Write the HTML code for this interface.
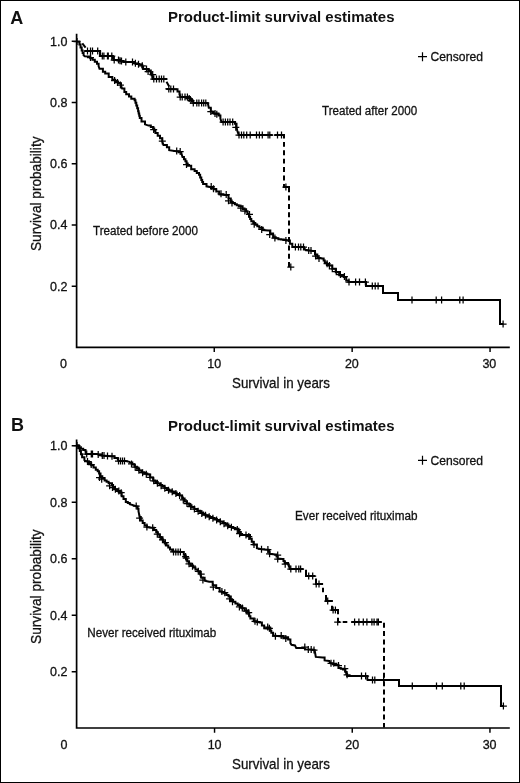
<!DOCTYPE html>
<html><head><meta charset="utf-8"><style>
html,body{margin:0;padding:0;background:#fff;width:520px;height:783px;overflow:hidden}
svg{display:block;filter:grayscale(1)}
text{fill:#111}
text[font-weight="normal"],text:not([font-weight]){stroke:#111;stroke-width:0.3px}
</style></head><body>
<svg width="520" height="783" viewBox="0 0 520 783" font-family='"Liberation Sans", sans-serif' fill="#000"><rect x="0.5" y="0.5" width="519" height="782" fill="none" stroke="#000" stroke-width="1"/>
<path d="M76.6 33.8V348.15000000000003M75.75 347.3H509.8" stroke="#000" stroke-width="1.7" fill="none"/>
<path d="M71.7 41.27H76.6M71.7 102.53H76.6M71.7 163.79H76.6M71.7 225.05H76.6M71.7 286.31H76.6M214.25 347.3V352.1M352.15 347.3V352.1M490.05 347.3V352.1" stroke="#000" stroke-width="1.45" fill="none"/>
<text x="67.5" y="45.66999999999998" font-size="12.5" font-weight="normal" text-anchor="end">1.0</text>
<text x="67.5" y="106.92999999999998" font-size="12.5" font-weight="normal" text-anchor="end">0.8</text>
<text x="67.5" y="168.19" font-size="12.5" font-weight="normal" text-anchor="end">0.6</text>
<text x="67.5" y="229.45" font-size="12.5" font-weight="normal" text-anchor="end">0.4</text>
<text x="67.5" y="290.71" font-size="12.5" font-weight="normal" text-anchor="end">0.2</text>
<text x="63.5" y="367.8" font-size="12.5" font-weight="normal" text-anchor="middle">0</text>
<text x="214.3" y="367.8" font-size="12.5" font-weight="normal" text-anchor="middle">10</text>
<text x="351.85" y="367.8" font-size="12.5" font-weight="normal" text-anchor="middle">20</text>
<text x="489.35" y="367.8" font-size="12.5" font-weight="normal" text-anchor="middle">30</text>
<text x="232.0" y="387.8" font-size="15" font-weight="normal" text-anchor="start" textLength="98" lengthAdjust="spacingAndGlyphs">Survival in years</text>
<text transform="translate(41.3 193.75) rotate(-90)" x="0" y="0" font-size="15" text-anchor="middle" textLength="114.5" lengthAdjust="spacingAndGlyphs">Survival probability</text>
<text x="168" y="22.3" font-size="14.6" font-weight="bold" text-anchor="start" textLength="226.5" lengthAdjust="spacingAndGlyphs">Product-limit survival estimates</text>
<text x="10.3" y="23.5" font-size="18" font-weight="bold" text-anchor="start">A</text>
<path d="M418 56.7H427M422.5 52.2V61.2" stroke="#000" stroke-width="1.2"/>
<text x="430.5" y="61.2" font-size="13" font-weight="normal" text-anchor="start" textLength="52.5" lengthAdjust="spacingAndGlyphs">Censored</text>
<path d="M76.6 439.6V728.85M75.75 728.0H509.8" stroke="#000" stroke-width="1.7" fill="none"/>
<path d="M71.7 445.66H76.6M71.7 502.16H76.6M71.7 558.66H76.6M71.7 615.16H76.6M71.7 671.66H76.6M214.55 728.0V732.8M352.25 728.0V732.8M489.95 728.0V732.8" stroke="#000" stroke-width="1.45" fill="none"/>
<text x="67.5" y="450.06" font-size="12.5" font-weight="normal" text-anchor="end">1.0</text>
<text x="67.5" y="506.55999999999995" font-size="12.5" font-weight="normal" text-anchor="end">0.8</text>
<text x="67.5" y="563.06" font-size="12.5" font-weight="normal" text-anchor="end">0.6</text>
<text x="67.5" y="619.56" font-size="12.5" font-weight="normal" text-anchor="end">0.4</text>
<text x="67.5" y="676.06" font-size="12.5" font-weight="normal" text-anchor="end">0.2</text>
<text x="64.1" y="749.0" font-size="12.5" font-weight="normal" text-anchor="middle">0</text>
<text x="214.6" y="749.0" font-size="12.5" font-weight="normal" text-anchor="middle">10</text>
<text x="352.3" y="749.0" font-size="12.5" font-weight="normal" text-anchor="middle">20</text>
<text x="489.6" y="749.0" font-size="12.5" font-weight="normal" text-anchor="middle">30</text>
<text x="232.0" y="769.0" font-size="15" font-weight="normal" text-anchor="start" textLength="98" lengthAdjust="spacingAndGlyphs">Survival in years</text>
<text transform="translate(41.3 586.65) rotate(-90)" x="0" y="0" font-size="15" text-anchor="middle" textLength="114.5" lengthAdjust="spacingAndGlyphs">Survival probability</text>
<text x="168" y="431.2" font-size="14.6" font-weight="bold" text-anchor="start" textLength="226.5" lengthAdjust="spacingAndGlyphs">Product-limit survival estimates</text>
<text x="10.9" y="430.8" font-size="18" font-weight="bold" text-anchor="start">B</text>
<path d="M418 460.3H427M422.5 455.8V464.8" stroke="#000" stroke-width="1.2"/>
<text x="430.5" y="464.8" font-size="13" font-weight="normal" text-anchor="start" textLength="52.5" lengthAdjust="spacingAndGlyphs">Censored</text>
<text x="322.1" y="115" font-size="12.5" font-weight="normal" text-anchor="start" textLength="95.0" lengthAdjust="spacingAndGlyphs">Treated after 2000</text>
<text x="93.0" y="235" font-size="12.5" font-weight="normal" text-anchor="start" textLength="105.0" lengthAdjust="spacingAndGlyphs">Treated before 2000</text>
<text x="295.0" y="519.8" font-size="12.5" font-weight="normal" text-anchor="start" textLength="122.5" lengthAdjust="spacingAndGlyphs">Ever received rituximab</text>
<text x="87.3" y="637.1" font-size="12.5" font-weight="normal" text-anchor="start" textLength="129" lengthAdjust="spacingAndGlyphs">Never received rituximab</text>
<path d="M77 41.50 L79.40 41.50 L79.40 44.50 L80.55 44.50 L80.55 47.55 L81.70 47.55 L81.70 50.60 L82.65 50.60 L82.65 52.90 L83.60 52.90 L83.60 55.20 L84.80 56.20 L88.60 56.40 L90.20 56.40 L90.20 58.30 L92.50 58.30 L92.50 59.80 L94.80 59.80 L94.80 61.80 L97 61.80 L97 63.70 L98.60 63.70 L98.60 66 L99.50 68.80 L102.90 68.80 L102.90 71.70 L105.20 71.70 L105.20 73.50 L108.70 73.50 L108.70 76.90 L112.30 76.90 L112.30 79.80 L115.20 79.80 L115.20 81.50 L118.10 81.50 L118.10 83.30 L121 83.30 L121 85.60 L122.10 88.50 L124.40 88.50 L124.40 91.90 L126.20 91.90 L126.20 94.20 L129 94.20 L129 96.50 L131.30 96.50 L131.30 98.80 L134.60 98.80 L134.60 100.20 L135.45 100.20 L135.45 102.80 L136.30 102.80 L136.30 105.40 L137.20 105.40 L137.20 108.30 L138.10 108.30 L138.10 111.20 L138.67 111.20 L138.67 113.50 L139.23 113.50 L139.23 115.80 L139.80 115.80 L139.80 118.10 L141.50 118.10 L141.50 121.50 L145 121.50 L145 124.40 L148.50 125.60 L150.80 125.60 L150.80 127.05 L153.10 127.05 L153.10 128.50 L154.25 128.50 L154.25 130.80 L155.40 130.80 L155.40 133.10 L157.70 133.10 L157.70 135.70 L160 135.70 L160 138.30 L162.30 138.30 L162.30 141.50 L163.50 145 L166.90 145 L166.90 147.30 L169.20 147.30 L169.20 150.20 L176.20 151.30 L178.75 151.30 L178.75 152.20 L181.30 152.20 L181.30 153.10 L182.50 157.10 L183.95 157.10 L183.95 159.15 L185.40 159.15 L185.40 161.20 L186.55 161.20 L186.55 163.50 L187.70 163.50 L187.70 165.80 L191.20 165.80 L191.20 169.20 L194.60 169.20 L194.60 171 L196.80 171 L196.80 172.90 L199 172.90 L199 174.80 L200.15 174.80 L200.15 177.40 L201.30 177.40 L201.30 180 L202.20 180 L202.20 182 L203.10 182 L203.10 184 L206.50 184 L206.50 186.30 L210 186.90 L213.50 186.90 L213.50 189.20 L216.30 189.20 L216.30 191.50 L219.20 191.50 L219.20 194.40 L225 195 L228.50 195 L228.50 198.50 L230.80 198.50 L230.80 201.90 L232.80 201.90 L232.80 203.05 L234.80 203.05 L234.80 204.20 L236.80 204.20 L236.80 205.25 L238.80 205.25 L238.80 206.30 L242.60 206.30 L242.60 209.20 L246.10 209.20 L246.10 211.50 L247.55 211.50 L247.55 214.10 L249 214.10 L249 216.70 L250.15 216.70 L250.15 219 L251.30 219 L251.30 221.30 L253.30 221.30 L253.30 223.05 L255.30 223.05 L255.30 224.80 L257.30 224.80 L257.30 226.25 L259.30 226.25 L259.30 227.70 L262.80 227.70 L262.80 230 L268 230.60 L270.30 230.60 L270.30 233.50 L273.10 233.50 L273.10 237.20 L275.75 237.20 L275.75 238.20 L278.40 238.20 L278.40 239.20 L281.10 239.20 L281.10 239.60 L283.80 239.60 L283.80 240 L286.50 240 L286.50 240.40 L289.90 240.40 L289.90 243.80 L292.30 243.80 L292.30 247 L304 247 L305.20 249.80 L312.70 251 L315 251 L315 254.40 L317.30 254.40 L317.30 257.30 L322.50 258.50 L323.65 258.50 L323.65 260.50 L324.80 260.50 L324.80 262.50 L326.80 262.50 L326.80 263.95 L328.80 263.95 L328.80 265.40 L332.30 265.40 L332.30 268.80 L335.80 268.80 L335.80 272.30 L339.20 272.30 L339.20 275.20 L341.50 275.20 L341.50 276.05 L343.80 276.05 L343.80 276.90 L346.20 276.90 L346.20 280.40 L348.50 280.40 L348.50 282 L366 282 L366 286 L383 286 L383 293 L398 293 L398 300 L500 300 L500 324 L503.10 324" fill="none" stroke="#000" stroke-width="2"/>
<path d="M87.00 57.50h7.0M90.50 54.00v7.0M111.10 80.50h7.0M114.60 77.00v7.0M114.00 82.50h7.0M117.50 79.00v7.0M116.90 85.00h7.0M120.40 81.50v7.0M150.20 129.60h7.0M153.70 126.10v7.0M158.80 141.00h7.0M162.30 137.50v7.0M173.20 151.00h7.0M176.70 147.50v7.0M176.70 151.50h7.0M180.20 148.00v7.0M183.00 164.60h7.0M186.50 161.10v7.0M207.70 186.50h7.0M211.20 183.00v7.0M210.00 188.70h7.0M213.50 185.20v7.0M217.50 193.80h7.0M221.00 190.30v7.0M222.70 194.60h7.0M226.20 191.10v7.0M225.00 200.80h7.0M228.50 197.30v7.0M228.50 203.00h7.0M232.00 199.50v7.0M237.30 208.00h7.0M240.80 204.50v7.0M241.40 211.00h7.0M244.90 207.50v7.0M246.00 214.40h7.0M249.50 210.90v7.0M250.70 224.20h7.0M254.20 220.70v7.0M258.20 229.40h7.0M261.70 225.90v7.0M266.20 234.60h7.0M269.70 231.10v7.0M271.40 238.00h7.0M274.90 234.50v7.0M282.40 240.40h7.0M285.90 236.90v7.0M291.90 247.00h7.0M295.40 243.50v7.0M295.00 247.00h7.0M298.50 243.50v7.0M297.30 247.00h7.0M300.80 243.50v7.0M300.00 247.00h7.0M303.50 243.50v7.0M305.20 250.60h7.0M308.70 247.10v7.0M307.50 250.60h7.0M311.00 247.10v7.0M312.10 256.00h7.0M315.60 252.50v7.0M315.50 258.50h7.0M319.00 255.00v7.0M323.60 263.70h7.0M327.10 260.20v7.0M325.90 265.40h7.0M329.40 261.90v7.0M328.80 268.80h7.0M332.30 265.30v7.0M332.80 271.70h7.0M336.30 268.20v7.0M336.90 274.60h7.0M340.40 271.10v7.0M340.90 276.50h7.0M344.40 273.00v7.0M345.50 282.00h7.0M349.00 278.50v7.0M352.10 282.00h7.0M355.60 278.50v7.0M356.00 282.00h7.0M359.50 278.50v7.0M361.90 282.00h7.0M365.40 278.50v7.0M368.80 286.00h7.0M372.30 282.50v7.0M371.70 286.00h7.0M375.20 282.50v7.0M374.60 286.00h7.0M378.10 282.50v7.0M408.50 300.00h7.0M412.00 296.50v7.0M432.70 300.00h7.0M436.20 296.50v7.0M438.10 300.00h7.0M441.60 296.50v7.0M456.30 300.00h7.0M459.80 296.50v7.0M459.60 300.00h7.0M463.10 296.50v7.0M499.60 324.00h7.0M503.10 320.50v7.0" fill="none" stroke="#000" stroke-width="1.25"/>
<path d="M77 445.60 L78.40 445.60 L78.40 448.30 L79.80 448.30 L79.80 451 L80.95 451 L80.95 454.15 L82.10 454.15 L82.10 457.30 L84.40 457.30 L84.40 460.20 L86.70 461.30 L88.90 461.30 L88.90 463.30 L91.20 463.30 L91.20 465.20 L93.50 465.20 L93.50 467.50 L95.80 467.50 L95.80 469.80 L97.70 469.80 L97.70 471.20 L99.10 471.20 L99.10 473.50 L100.50 473.50 L100.50 476.20 L102.30 476.20 L102.30 478.10 L104.60 478.10 L104.60 480.40 L106.60 480.40 L106.60 481.85 L108.60 481.85 L108.60 483.30 L112 483.30 L112 485 L113.10 485 L113.10 487.10 L114.20 487.10 L114.20 489.20 L117.10 489.20 L117.10 490.95 L120 490.95 L120 492.70 L121.70 492.70 L121.70 496.20 L123.50 496.20 L123.50 499 L125.80 499 L125.80 501.90 L127.80 501.90 L127.80 503.05 L129.80 503.05 L129.80 504.20 L133.80 505.40 L136.70 506.50 L137.60 506.50 L137.60 508.85 L138.50 508.85 L138.50 511.20 L139.60 516.90 L140.80 516.90 L140.80 520.40 L142.70 520.40 L142.70 522.90 L144.60 522.90 L144.60 525.40 L146.90 525.40 L146.90 527.10 L151.50 527.70 L153.85 527.70 L153.85 530 L156.20 530 L156.20 532.30 L157.90 532.30 L157.90 534.60 L159.60 534.60 L159.60 536.90 L161.35 536.90 L161.35 539.20 L163.10 539.20 L163.10 541.50 L164.80 541.50 L164.80 543.55 L166.50 543.55 L166.50 545.60 L168.25 545.60 L168.25 547.60 L170 547.60 L170 549.60 L172.30 549.60 L172.30 551.30 L181.50 551.90 L183.80 551.90 L183.80 554.80 L184.97 554.80 L184.97 557.03 L186.13 557.03 L186.13 559.27 L187.30 559.27 L187.30 561.50 L189.05 561.50 L189.05 563.55 L190.80 563.55 L190.80 565.60 L193.10 565.60 L193.10 567.60 L195.40 567.60 L195.40 569.60 L197.70 569.60 L197.70 571.35 L200 571.35 L200 573.10 L201.20 577.70 L204.60 577.70 L204.60 580.60 L209.20 581.70 L212.70 581.70 L212.70 585.20 L216.20 585.20 L216.20 588.10 L219.60 588.10 L219.60 591.50 L221.90 591.50 L221.90 592.40 L224.20 592.40 L224.20 593.30 L226.35 593.30 L226.35 594.90 L228.50 594.90 L228.50 596.50 L230.80 596.50 L230.80 600 L233.10 600 L233.10 601.75 L235.40 601.75 L235.40 603.50 L237.70 603.50 L237.70 604.90 L240 604.90 L240 606.30 L242.30 606.30 L242.30 608.35 L244.60 608.35 L244.60 610.40 L248.10 610.40 L248.10 613.80 L249.25 613.80 L249.25 616.15 L250.40 616.15 L250.40 618.50 L253.80 618.50 L253.80 621.30 L256.70 621.30 L256.70 621.90 L259.60 621.90 L259.60 622.50 L261.90 622.50 L261.90 625.40 L264.20 625.40 L264.20 628.30 L269.60 628.70 L270.45 628.70 L270.45 630.70 L271.30 630.70 L271.30 632.70 L273.10 632.70 L273.10 635.60 L280 636.20 L284.60 637.30 L288.10 637.30 L288.10 639.60 L290.40 639.60 L290.40 643.10 L291.50 644.80 L295 645.40 L296.20 648 L304.20 648 L305.40 649.40 L314.60 650 L315.80 656.90 L322.70 657.50 L324.60 657.50 L324.60 660.40 L329.20 661 L330.40 663.30 L332.70 663.30 L332.70 664.15 L335 664.15 L335 665 L338.50 665 L338.50 667.90 L340.80 667.90 L340.80 668.75 L343.10 668.75 L343.10 669.60 L345.40 669.60 L345.40 671.90 L346.25 671.90 L346.25 673.95 L347.10 673.95 L347.10 676 L365 676 L367.30 676 L367.30 679.40 L367.50 680 L399 680 L399 686 L501 686 L501 706 L503.40 706" fill="none" stroke="#000" stroke-width="2"/>
<path d="M84.00 461.50h7.0M87.50 458.00v7.0M87.70 464.50h7.0M91.20 461.00v7.0M96.00 477.60h7.0M99.50 474.10v7.0M98.20 479.20h7.0M101.70 475.70v7.0M106.10 485.80h7.0M109.60 482.30v7.0M109.00 487.50h7.0M112.50 484.00v7.0M111.90 489.20h7.0M115.40 485.70v7.0M115.30 491.00h7.0M118.80 487.50v7.0M117.70 492.70h7.0M121.20 489.20v7.0M132.70 506.00h7.0M136.20 502.50v7.0M136.10 518.10h7.0M139.60 514.60v7.0M143.40 527.10h7.0M146.90 523.60v7.0M149.20 527.70h7.0M152.70 524.20v7.0M153.80 534.00h7.0M157.30 530.50v7.0M156.70 537.00h7.0M160.20 533.50v7.0M159.00 539.80h7.0M162.50 536.30v7.0M161.90 542.70h7.0M165.40 539.20v7.0M170.00 551.90h7.0M173.50 548.40v7.0M172.30 551.90h7.0M175.80 548.40v7.0M174.60 551.90h7.0M178.10 548.40v7.0M176.90 551.90h7.0M180.40 548.40v7.0M182.10 556.50h7.0M185.60 553.00v7.0M182.70 558.00h7.0M186.20 554.50v7.0M185.50 563.80h7.0M189.00 560.30v7.0M189.00 566.20h7.0M192.50 562.70v7.0M194.80 571.30h7.0M198.30 567.80v7.0M197.70 574.20h7.0M201.20 570.70v7.0M199.40 580.00h7.0M202.90 576.50v7.0M209.80 587.00h7.0M213.30 583.50v7.0M218.40 591.50h7.0M221.90 588.00v7.0M221.30 592.70h7.0M224.80 589.20v7.0M226.10 598.80h7.0M229.60 595.30v7.0M229.00 601.70h7.0M232.50 598.20v7.0M235.90 606.90h7.0M239.40 603.40v7.0M238.80 608.10h7.0M242.30 604.60v7.0M242.80 611.00h7.0M246.30 607.50v7.0M245.20 612.70h7.0M248.70 609.20v7.0M251.50 621.30h7.0M255.00 617.80v7.0M253.80 621.90h7.0M257.30 618.40v7.0M264.20 627.10h7.0M267.70 623.60v7.0M265.90 628.30h7.0M269.40 624.80v7.0M271.90 636.20h7.0M275.40 632.70v7.0M277.70 635.60h7.0M281.20 632.10v7.0M282.30 638.50h7.0M285.80 635.00v7.0M301.30 647.10h7.0M304.80 643.60v7.0M304.80 649.40h7.0M308.30 645.90v7.0M307.70 649.40h7.0M311.20 645.90v7.0M310.50 650.00h7.0M314.00 646.50v7.0M327.50 663.30h7.0M331.00 659.80v7.0M330.30 663.30h7.0M333.80 659.80v7.0M335.00 665.60h7.0M338.50 662.10v7.0M341.30 668.50h7.0M344.80 665.00v7.0M343.60 674.80h7.0M347.10 671.30v7.0M358.00 676.00h7.0M361.50 672.50v7.0M362.10 676.00h7.0M365.60 672.50v7.0M369.00 680.00h7.0M372.50 676.50v7.0M371.30 680.00h7.0M374.80 676.50v7.0M380.10 680.00h7.0M383.60 676.50v7.0M408.80 686.00h7.0M412.30 682.50v7.0M433.00 686.00h7.0M436.50 682.50v7.0M438.80 686.00h7.0M442.30 682.50v7.0M457.30 686.00h7.0M460.80 682.50v7.0M460.70 686.00h7.0M464.20 682.50v7.0M499.90 706.00h7.0M503.40 702.50v7.0" fill="none" stroke="#000" stroke-width="1.25"/>
<path d="M82.30 43.30 L85.60 47.60M84.30 51 L100 51 L100 56 L112.30 56 L112.90 56 L112.90 58 L113.50 58 L113.50 60 L118 60 L120.75 60 L120.75 61 L123.50 61 L123.50 62 L132 62 L134.60 62 L134.60 63.50 L136.90 63.50 L136.90 64 L139.20 64 L139.20 64.50 L141.50 64.50 L141.50 65 L142.30 65 L142.30 67 L143.10 67 L143.10 69 L146.20 69 L148.50 69 L148.50 70.40 L150.80 70.40 L150.80 73.10 L151.55 73.10 L151.55 75.20 L152.30 75.20 L152.30 77.30 L152.60 79 L167.30 79M166.50 81.80 L169.20 86.50M166.20 88.90 L175.40 89.20 L177.50 89.20 L177.50 91.50 L179.50 91.50 L179.50 94.50 L180.50 97 L188.50 97 L189.90 97 L189.90 99.40 L192 99.40 L192 101.20 L193.30 101.20 L193.30 103 L207.80 103 L208.80 107.70 L210.80 107.70 L210.80 111.50 L212.70 111.50 L212.70 112.70 L215 113.50 L218.50 113.50 L218.50 115.40 L220.40 115.40 L220.40 118.50 L221.50 122 L233.50 122 L235 122 L235 123.80 L236.50 123.80 L236.50 127.30 L237.30 130.80 L238.10 133.10 L238.60 135 L272.70 135M274.40 135 L284 135 L284 138.40M284 183.90 L284 187 L289 187 L289 192.30" fill="none" stroke="#000" stroke-width="2"/>
<path d="M284 141.90 L284 180.40" fill="none" stroke="#000" stroke-width="2" stroke-dasharray="4.9 3.5" stroke-dashoffset="0"/>
<path d="M289 195.60 L289 267 L290.80 267" fill="none" stroke="#000" stroke-width="2" stroke-dasharray="5 3.3" stroke-dashoffset="0"/>
<path d="M73.50 41.50h7.0M77.00 38.00v7.0M84.00 51.00h7.0M87.50 47.50v7.0M87.00 51.00h7.0M90.50 47.50v7.0M89.00 51.00h7.0M92.50 47.50v7.0M94.20 51.00h7.0M97.70 47.50v7.0M98.80 56.00h7.0M102.30 52.50v7.0M100.40 56.00h7.0M103.90 52.50v7.0M104.00 56.00h7.0M107.50 52.50v7.0M104.80 56.00h7.0M108.30 52.50v7.0M108.30 56.00h7.0M111.80 52.50v7.0M110.70 60.00h7.0M114.20 56.50v7.0M115.00 60.00h7.0M118.50 56.50v7.0M116.50 60.80h7.0M120.00 57.30v7.0M118.00 61.00h7.0M121.50 57.50v7.0M122.30 62.00h7.0M125.80 58.50v7.0M129.00 62.00h7.0M132.50 58.50v7.0M131.90 63.30h7.0M135.40 59.80v7.0M135.00 64.30h7.0M138.50 60.80v7.0M138.80 65.80h7.0M142.30 62.30v7.0M143.00 69.00h7.0M146.50 65.50v7.0M144.60 71.50h7.0M148.10 68.00v7.0M149.20 74.50h7.0M152.70 71.00v7.0M150.30 79.00h7.0M153.80 75.50v7.0M153.00 79.00h7.0M156.50 75.50v7.0M155.70 79.00h7.0M159.20 75.50v7.0M158.00 79.00h7.0M161.50 75.50v7.0M160.30 79.00h7.0M163.80 75.50v7.0M165.30 88.90h7.0M168.80 85.40v7.0M167.30 88.90h7.0M170.80 85.40v7.0M170.00 89.10h7.0M173.50 85.60v7.0M176.70 97.00h7.0M180.20 93.50v7.0M178.70 97.00h7.0M182.20 93.50v7.0M181.50 97.00h7.0M185.00 93.50v7.0M183.90 97.00h7.0M187.40 93.50v7.0M185.70 98.50h7.0M189.20 95.00v7.0M187.40 100.50h7.0M190.90 97.00v7.0M189.80 103.00h7.0M193.30 99.50v7.0M193.30 103.00h7.0M196.80 99.50v7.0M195.40 103.00h7.0M198.90 99.50v7.0M198.10 103.00h7.0M201.60 99.50v7.0M200.20 103.00h7.0M203.70 99.50v7.0M202.30 103.00h7.0M205.80 99.50v7.0M207.30 111.50h7.0M210.80 108.00v7.0M211.50 113.50h7.0M215.00 110.00v7.0M213.30 114.20h7.0M216.80 110.70v7.0M219.60 122.00h7.0M223.10 118.50v7.0M221.90 122.00h7.0M225.40 118.50v7.0M224.20 122.00h7.0M227.70 118.50v7.0M226.50 122.00h7.0M230.00 118.50v7.0M229.20 122.00h7.0M232.70 118.50v7.0M232.30 127.30h7.0M235.80 123.80v7.0M235.50 135.00h7.0M239.00 131.50v7.0M238.00 135.00h7.0M241.50 131.50v7.0M240.30 135.00h7.0M243.80 131.50v7.0M243.20 135.00h7.0M246.70 131.50v7.0M246.70 135.00h7.0M250.20 131.50v7.0M253.00 135.00h7.0M256.50 131.50v7.0M255.90 135.00h7.0M259.40 131.50v7.0M258.80 135.00h7.0M262.30 131.50v7.0M264.60 135.00h7.0M268.10 131.50v7.0M266.30 135.00h7.0M269.80 131.50v7.0M274.00 135.00h7.0M277.50 131.50v7.0M278.00 135.00h7.0M281.50 131.50v7.0M282.40 187.00h7.0M285.90 183.50v7.0M287.30 267.00h7.0M290.80 263.50v7.0" fill="none" stroke="#000" stroke-width="1.25"/>
<path d="M77 445.60 L78.95 445.60 L78.95 447.15 L80.90 447.15 L80.90 448.70 L83.20 448.70 L83.20 450.10 L85.50 450.10 L85.50 451.50 L86 454 L97.10 454 L98.20 454.40 L101.70 454.40 L101.70 455.60 L110.90 456.20 L114.40 456.20 L114.40 457.90 L117.80 457.90 L117.80 459.60 L118.50 461 L125.90 461 L129.40 461.90 L130 462.50 L132.30 462.50 L132.30 464.60 L134.60 464.60 L134.60 466.70 L136.90 466.70 L136.90 468.80 L139.20 468.80 L139.20 470.55 L141.50 470.55 L141.50 472.30 L144.40 472.30 L144.40 473.45 L147.30 473.45 L147.30 474.60 L150.20 474.60 L150.20 477.50 L153.10 477.50 L153.10 480.40 L155.40 480.40 L155.40 481.93 L157.70 481.93 L157.70 483.47 L160 483.47 L160 485 L162.30 485 L162.30 486.53 L164.60 486.53 L164.60 488.07 L166.90 488.07 L166.90 489.60 L169.20 489.60 L169.20 490.57 L171.50 490.57 L171.50 491.53 L173.80 491.53 L173.80 492.50 L176.70 492.50 L176.70 493.95 L179.60 493.95 L179.60 495.40 L182.10 495.40 L182.10 498.45 L184.60 498.45 L184.60 501.50 L186.90 501.50 L186.90 503.43 L189.20 503.43 L189.20 505.37 L191.50 505.37 L191.50 507.30 L194.40 507.30 L194.40 509.05 L197.30 509.05 L197.30 510.80 L200.20 510.80 L200.20 512.50 L203.10 512.50 L203.10 514.20 L205.40 514.20 L205.40 515.17 L207.70 515.17 L207.70 516.13 L210 516.13 L210 517.10 L212.30 517.10 L212.30 518.07 L214.60 518.07 L214.60 519.03 L216.90 519.03 L216.90 520 L219.80 520 L219.80 521.45 L222.70 521.45 L222.70 522.90 L225.60 522.90 L225.60 524.60 L228.50 524.60 L228.50 526.30 L230.80 526.30 L230.80 527.10 L233.10 527.10 L233.10 527.90 L235.40 527.90 L235.40 528.70 L238.50 528.70 L238.50 531.90 L240.80 531.90 L240.80 535 L246.50 535 L250 535 L250 538.80 L251.75 538.80 L251.75 541.70 L253.50 541.70 L253.50 544.60 L256.90 544.60 L256.90 548.10 L261.50 549.20 L267.30 549.80 L268.45 549.80 L268.45 551.80 L269.60 551.80 L269.60 553.80 L275.40 554.40 L276.55 554.40 L276.55 556.45 L277.70 556.45 L277.70 558.50 L282.30 559 L283.45 559 L283.45 561.05 L284.60 561.05 L284.60 563.10 L288.10 563.10 L288.10 564.50 L288.85 564.50 L288.85 566.60 L289.60 566.60 L289.60 568.70 L289.80 569 L303.50 569M306 569.80 L306 576 L315.30 576M316 578.40 L316 584 L323.10 584M323 587.70 L323 592.30M326 595 L326 601 L332.90 601M332 605.80 L332 610 L338 610 L338 614.20M338 617.80 L338 622 L340 622M342.70 622 L347.30 622M351.30 622 L381.70 622" fill="none" stroke="#000" stroke-width="2"/>
<path d="M384 622.70 L384 727.50" fill="none" stroke="#000" stroke-width="2" stroke-dasharray="5 3.35" stroke-dashoffset="0"/>
<path d="M73.50 445.60h7.0M77.00 442.10v7.0M83.20 454.00h7.0M86.70 450.50v7.0M87.80 454.00h7.0M91.30 450.50v7.0M89.00 454.00h7.0M92.50 450.50v7.0M94.70 454.40h7.0M98.20 450.90v7.0M98.80 455.60h7.0M102.30 452.10v7.0M100.50 455.60h7.0M104.00 452.10v7.0M104.00 456.00h7.0M107.50 452.50v7.0M108.50 456.20h7.0M112.00 452.70v7.0M115.00 461.00h7.0M118.50 457.50v7.0M117.00 461.00h7.0M120.50 457.50v7.0M119.00 461.00h7.0M122.50 457.50v7.0M121.00 461.00h7.0M124.50 457.50v7.0M128.00 463.90h7.0M131.50 460.40v7.0M131.70 467.20h7.0M135.20 463.70v7.0M135.40 470.30h7.0M138.90 466.80v7.0M139.10 472.70h7.0M142.60 469.20v7.0M142.80 474.20h7.0M146.30 470.70v7.0M146.50 477.30h7.0M150.00 473.80v7.0M150.20 480.80h7.0M153.70 477.30v7.0M153.90 483.30h7.0M157.40 479.80v7.0M157.60 485.70h7.0M161.10 482.20v7.0M161.30 488.20h7.0M164.80 484.70v7.0M165.00 490.30h7.0M168.50 486.80v7.0M168.70 491.80h7.0M172.20 488.30v7.0M172.40 493.50h7.0M175.90 490.00v7.0M176.10 495.40h7.0M179.60 491.90v7.0M179.80 499.90h7.0M183.30 496.40v7.0M183.50 503.50h7.0M187.00 500.00v7.0M187.20 506.60h7.0M190.70 503.10v7.0M190.90 509.00h7.0M194.40 505.50v7.0M194.60 511.30h7.0M198.10 507.80v7.0M198.30 513.40h7.0M201.80 509.90v7.0M202.00 515.20h7.0M205.50 511.70v7.0M205.70 516.80h7.0M209.20 513.30v7.0M209.40 518.30h7.0M212.90 514.80v7.0M213.10 519.90h7.0M216.60 516.40v7.0M216.80 521.70h7.0M220.30 518.20v7.0M220.50 523.70h7.0M224.00 520.20v7.0M224.20 525.80h7.0M227.70 522.30v7.0M227.90 527.30h7.0M231.40 523.80v7.0M233.80 529.60h7.0M237.30 526.10v7.0M236.10 533.70h7.0M239.60 530.20v7.0M242.50 535.00h7.0M246.00 531.50v7.0M245.30 536.50h7.0M248.80 533.00v7.0M250.50 544.60h7.0M254.00 541.10v7.0M258.00 549.20h7.0M261.50 545.70v7.0M264.40 549.50h7.0M267.90 546.00v7.0M266.10 553.80h7.0M269.60 550.30v7.0M274.20 555.00h7.0M277.70 551.50v7.0M274.20 559.00h7.0M277.70 555.50v7.0M281.70 564.20h7.0M285.20 560.70v7.0M287.30 569.00h7.0M290.80 565.50v7.0M292.50 569.00h7.0M296.00 565.50v7.0M295.30 569.00h7.0M298.80 565.50v7.0M297.10 569.00h7.0M300.60 565.50v7.0M305.20 576.00h7.0M308.70 572.50v7.0M309.20 576.00h7.0M312.70 572.50v7.0M312.70 584.00h7.0M316.20 580.50v7.0M315.50 584.00h7.0M319.00 580.50v7.0M324.20 601.00h7.0M327.70 597.50v7.0M329.60 610.00h7.0M333.10 606.50v7.0M331.90 610.00h7.0M335.40 606.50v7.0M334.20 622.00h7.0M337.70 618.50v7.0M351.10 622.00h7.0M354.60 618.50v7.0M355.40 622.00h7.0M358.90 618.50v7.0M359.80 622.00h7.0M363.30 618.50v7.0M363.40 622.00h7.0M366.90 618.50v7.0M368.40 622.00h7.0M371.90 618.50v7.0M370.60 622.00h7.0M374.10 618.50v7.0M373.50 622.00h7.0M377.00 618.50v7.0M374.90 622.00h7.0M378.40 618.50v7.0" fill="none" stroke="#000" stroke-width="1.25"/></svg>
</body></html>
